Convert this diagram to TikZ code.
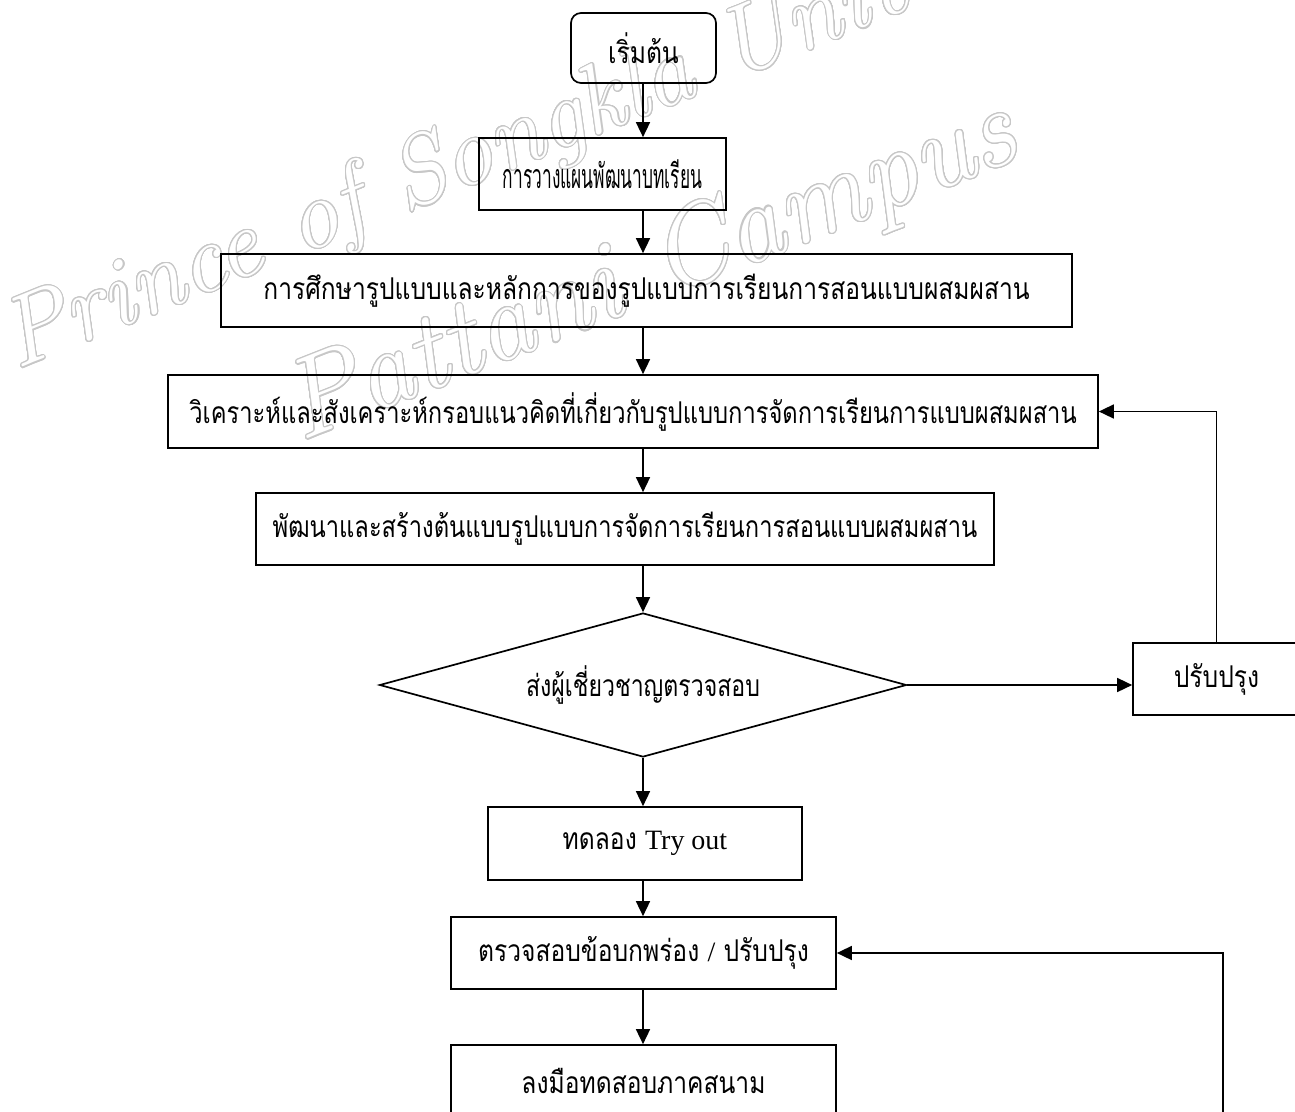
\documentclass[tikz,border=0pt]{standalone}
\usepackage{fontspec}
\usepackage{contour}
\usetikzlibrary{arrows.meta,shapes.geometric,calc}
\newfontfamily\thai[Script=Thai,FakeStretch=0.82]{Loma}
\newfontfamily\thaiB[Script=Thai,FakeStretch=0.79]{Loma}
\newfontfamily\thaiD[Script=Thai,FakeStretch=0.77]{Loma}
\newfontfamily\thaiN[Script=Thai,FakeStretch=0.51]{Loma}
\newfontfamily\latn{Liberation Serif}
\contourlength{1.1pt}
\contournumber{24}
\begin{document}
\begin{tikzpicture}[x=1pt,y=-1pt,
  box/.style={draw,line width=1.7pt,inner sep=0pt,font=\thai\fontsize{30}{34}\selectfont},
  arr/.style={line width=1.6pt,-{Triangle[length=15pt,width=14pt]}},
  wm/.style={font=\fontsize{98}{104}\selectfont\itshape,anchor=base west,inner sep=0pt}]
\clip (0,0) rectangle (1295,1111);
\fill[white] (0,0) rectangle (1295,1111);
% watermark
\node[wm,rotate=22] (wm1) at (16,370) {\contour{black!22}{\textcolor{white}{Prince of Songkla University}}};
\node[wm,rotate=21.5,font=\fontsize{112}{118}\selectfont\itshape] (wm2) at (300,442) {\contour{black!22}{\textcolor{white}{Pattani Campus}}};
% main column
\coordinate (ax) at (643,0);
\node[box,rounded corners=10pt,minimum width=145pt,minimum height=70pt] (start) at (643.5,48) {เริ่มต้น};
\node[box,minimum width=247pt,minimum height=72pt,font=\thaiN\fontsize{34}{38}\selectfont] (b2) at (602.5,174) {การวางแผนพัฒนาบทเรียน\hspace{12pt}};
\node[box,minimum width=851pt,minimum height=73pt] (b3) at (646.5,290.5) {การศึกษารูปแบบและหลักการของรูปแบบการเรียนการสอนแบบผสมผสาน};
\node[box,minimum width=930pt,minimum height=73pt,font=\thaiB\fontsize{30}{34}\selectfont] (b4) at (633,411.5) {วิเคราะห์และสังเคราะห์กรอบแนวคิดที่เกี่ยวกับรูปแบบการจัดการเรียนการแบบผสมผสาน};
\node[box,minimum width=738pt,minimum height=72pt,font=\thaiB\fontsize{30}{34}\selectfont] (b5) at (625,529) {พัฒนาและสร้างต้นแบบรูปแบบการจัดการเรียนการสอนแบบผสมผสาน};
\node[box,diamond,aspect=3.66,minimum width=527pt,minimum height=144pt,font=\thaiD\fontsize{30}{34}\selectfont] (dia) at (643,685) {ส่งผู้เชี่ยวชาญตรวจสอบ};
\node[box,minimum width=167pt,minimum height=72pt] (fix) at (1216.5,679) {ปรับปรุง};
\node[box,minimum width=314pt,minimum height=73pt] (b6) at (645,843.5) {ทดลอง {\latn\fontsize{28}{30}\selectfont Try out}};
\node[box,minimum width=385pt,minimum height=72pt] (b7) at (643.5,953) {ตรวจสอบข้อบกพร่อง {\latn\fontsize{28}{30}\selectfont /} ปรับปรุง};
\node[box,minimum width=385pt,minimum height=72pt] (b8) at (643.5,1081) {ลงมือทดสอบภาคสนาม};
% connectors
\draw[arr] (start.south -| ax) -- (b2.north -| ax);
\draw[arr] (b2.south -| ax) -- (b3.north -| ax);
\draw[arr] (b3.south -| ax) -- (b4.north -| ax);
\draw[arr] (b4.south -| ax) -- (b5.north -| ax);
\draw[arr] (b5.south -| ax) -- (dia.north);
\draw[arr] (dia.south) -- (b6.north -| ax);
\draw[arr] (b6.south -| ax) -- (b7.north -| ax);
\draw[arr] (b7.south -| ax) -- (b8.north -| ax);
\draw[arr] (dia.east) -- (fix.west |- dia.east);
\draw[arr] (fix.north) |- (b4.east);
\coordinate (lp) at (1223,1125);
\draw[arr] (lp) |- (b7.east);
\end{tikzpicture}
\end{document}
